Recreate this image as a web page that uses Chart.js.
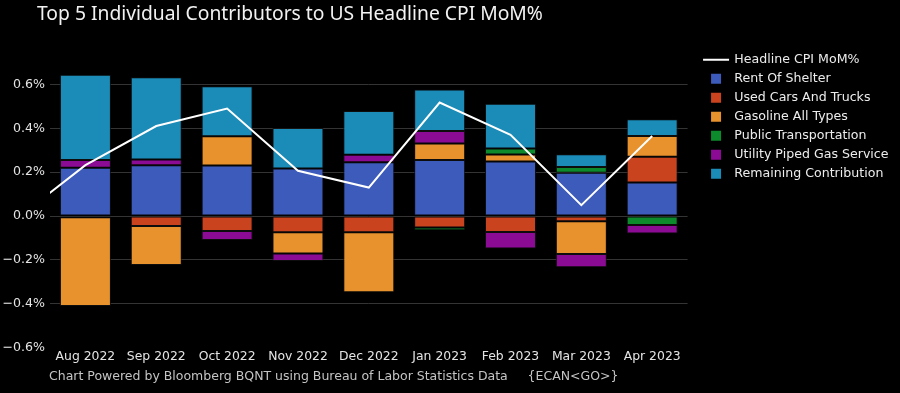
<!DOCTYPE html>
<html>
<head>
<meta charset="utf-8">
<script src="https://cdn.jsdelivr.net/npm/chart.js@4.4.1/dist/chart.umd.min.js"></script>
<style>
  html, body { margin: 0; padding: 0; background: #000; }
  #wrap { position: relative; width: 900px; height: 393px; background: #000; overflow: hidden; }
  #title { position: absolute; left: 37px; top: 3px; font-family: 'Noto Sans', sans-serif; font-size: 19.3px; line-height: 19px; color: #f2f2f2; white-space: pre; }
  #footer { position: absolute; left: 49px; top: 370px; font-family: 'DejaVu Sans', sans-serif; font-size: 12.5px; line-height: 12.5px; color: #c4c4c4; white-space: pre; }
  canvas { position: absolute; left: 0; top: 0; }
</style>
</head>
<body>
<div id="wrap">
  <canvas id="c" width="900" height="393"></canvas>
  <div id="title">Top 5 Individual Contributors to US Headline CPI MoM%</div>
  <div id="footer">Chart Powered by Bloomberg BQNT using Bureau of Labor Statistics Data     {ECAN&lt;GO&gt;}</div>
</div>
<script>
// ---- data (percentage points) ----
const categories = ['Aug 2022', 'Sep 2022', 'Oct 2022', 'Nov 2022', 'Dec 2022', 'Jan 2023', 'Feb 2023', 'Mar 2023', 'Apr 2023'];
const priorCategory = 'Jul 2022';        // off-axis month the headline line comes in from
const headlinePrior = -0.02;

const headline        = [0.232, 0.41, 0.49, 0.206, 0.13, 0.517, 0.37, 0.05, 0.365];
const rentOfShelter   = [0.22, 0.232, 0.230, 0.217, 0.245, 0.255, 0.249, 0.197, 0.153];
const usedCars        = [-0.005, -0.045, -0.068, -0.074, -0.074, -0.052, -0.072, -0.024, 0.117];
const gasoline        = [-0.405, -0.178, 0.134, -0.096, -0.273, 0.075, 0.031, -0.149, 0.095];
const publicTransport = [0, 0, 0, 0, 0, -0.013, 0.028, 0.027, -0.041];
const utilityGas      = [0.035, 0.026, -0.041, -0.035, 0.034, 0.058, -0.076, -0.06, -0.038];
const remaining       = [0.389, 0.374, 0.227, 0.184, 0.2, 0.189, 0.204, 0.058, 0.076];

const yTickValues = [-0.6, -0.4, -0.2, 0, 0.2, 0.4, 0.6];

// ---- helpers ----
const labels = [priorCategory, ...categories];
const withPrior = (arr, prior) => [prior, ...arr];

const COLORS = {
  headline: '#ffffff',
  rent: '#3d5bba',
  used: '#c9431f',
  gas: '#e8922e',
  pub: '#0d8a2b',
  util: '#8c0b95',
  rem: '#1b8bb7'
};

const SW_OFF = 5;
function swatch(kind, color) {
  const c = document.createElement('canvas');
  c.width = 2 * (SW_OFF + 14);
  c.height = 12;
  const g = c.getContext('2d');
  const cx = c.width / 2 + SW_OFF;
  if (kind === 'line') {
    g.strokeStyle = color; g.lineWidth = 2;
    g.beginPath(); g.moveTo(cx - 13, 6); g.lineTo(cx + 13, 6); g.stroke();
  } else {
    g.fillStyle = color; g.fillRect(cx - 5, 1, 10, 10);
  }
  return c;
}

const FONT = 'DejaVu Sans';
const barCommon = {
  type: 'bar',
  stack: 'contrib',
  borderColor: 'rgba(15,15,15,0.85)',
  borderWidth: 1,
  borderSkipped: false,
  categoryPercentage: 0.72,
  barPercentage: 1.0
};

const datasets = [
  { type: 'line', label: 'Headline CPI MoM%', data: withPrior(headline, headlinePrior), borderColor: COLORS.headline, backgroundColor: COLORS.headline, borderWidth: 2, pointRadius: 0, pointHoverRadius: 0, tension: 0, stack: 'line', _sw: swatch('line', COLORS.headline) },
  { ...barCommon, label: 'Rent Of Shelter', data: withPrior(rentOfShelter, null), backgroundColor: COLORS.rent, _sw: swatch('box', COLORS.rent) },
  { ...barCommon, label: 'Used Cars And Trucks', data: withPrior(usedCars, null), backgroundColor: COLORS.used, _sw: swatch('box', COLORS.used) },
  { ...barCommon, label: 'Gasoline All Types', data: withPrior(gasoline, null), backgroundColor: COLORS.gas, _sw: swatch('box', COLORS.gas) },
  { ...barCommon, label: 'Public Transportation', data: withPrior(publicTransport, null), backgroundColor: COLORS.pub, _sw: swatch('box', COLORS.pub) },
  { ...barCommon, label: 'Utility Piped Gas Service', data: withPrior(utilityGas, null), backgroundColor: COLORS.util, _sw: swatch('box', COLORS.util) },
  { ...barCommon, label: 'Remaining Contribution', data: withPrior(remaining, null), backgroundColor: COLORS.rem, _sw: swatch('box', COLORS.rem) }
];

const fmtPct = v => (v < 0 ? '\u2212' : '') + Math.abs(v).toFixed(1) + '%';

new Chart(document.getElementById('c'), {
  type: 'bar',
  data: { labels, datasets },
  options: {
    responsive: false,
    animation: false,
    devicePixelRatio: 1,
    layout: { padding: { top: 47, bottom: 26.3, left: 0, right: 1.5 } },
    plugins: {
      tooltip: { enabled: false },
      title: { display: false },
      legend: {
        display: true,
        position: 'right',
        align: 'start',
        labels: {
          color: '#ececec',
          font: { family: FONT, size: 12.6 },
          usePointStyle: true,
          pointStyleWidth: 34,
          boxHeight: 10,
          padding: 6.4,
          generateLabels(chart) {
            const items = Chart.defaults.plugins.legend.labels.generateLabels(chart);
            return items.map(it => Object.assign(it, { pointStyle: chart.data.datasets[it.datasetIndex]._sw, fontColor: '#ececec' }));
          }
        }
      }
    },
    scales: {
      x: {
        type: 'category',
        stacked: true,
        min: categories[0],
        grid: { display: false, drawTicks: false },
        border: { display: false },
        ticks: { color: '#e4e4e4', font: { family: FONT, size: 12.4 }, padding: 2, maxRotation: 0, autoSkip: false }
      },
      y: {
        stacked: true,
        min: -0.6,
        max: 0.77,
        afterFit(scale) { scale.width = 50; },
        afterBuildTicks(scale) { scale.ticks = yTickValues.map(v => ({ value: v })); },
        grid: {
          color: ctx => (ctx.tick && Math.abs(ctx.tick.value + 0.6) < 1e-9) ? 'rgba(0,0,0,0)' : '#343434',
          lineWidth: 1,
          drawTicks: false
        },
        border: { display: false },
        ticks: { color: '#e4e4e4', font: { family: FONT, size: 12.6 }, padding: 5, callback: v => fmtPct(v) }
      }
    }
  }
});
</script>
</body>
</html>
